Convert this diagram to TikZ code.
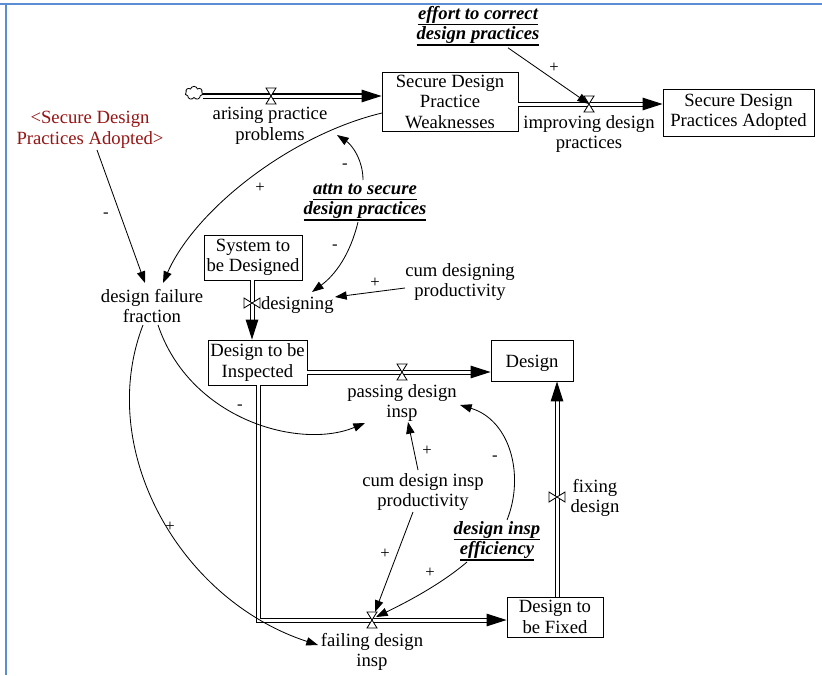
\documentclass[tikz,border=0pt]{standalone}
\usepackage{fontspec}
\setmainfont{Liberation Serif}
\usepackage{tikz}
\usetikzlibrary{arrows.meta,shapes.symbols,positioning}
\definecolor{frameblue}{RGB}{91,141,213}
\definecolor{shadowred}{RGB}{150,20,20}
\newcommand{\ulbf}[1]{\setbox0=\hbox{\bfseries\itshape #1}\leavevmode\rlap{\rule[-3.6pt]{\wd0}{0.9pt}}\box0}

\begin{document}
\begin{tikzpicture}[x=0.6pt,y=-0.6pt,
  font=\fontsize{11.2}{12.3}\selectfont,
  stock/.style={draw, fill=white, align=center, inner sep=0pt, line width=0.5pt,
    execute at begin node={\rule{0pt}{10.5pt}}},
  var/.style={align=center, inner sep=1pt, execute at begin node={\rule{0pt}{10.5pt}}},
  link/.style={-{Triangle[length=7pt,width=5pt]}, line width=0.5pt},
  flow/.style={double, double distance=1.8pt, line width=0.6pt, -{Triangle[length=12pt,width=7.5pt]}},
  sign/.style={inner sep=0pt, font=\fontsize{10}{12}\selectfont},
  valve/.pic={\draw[fill=white, line width=0.5pt] (-5,-8) -- (5,-8) -- (-5,8) -- (5,8) -- cycle;}]
  \useasboundingbox (0,0) rectangle (822,675);
  \draw[frameblue, line width=1.2pt] (0,4) -- (822,4);
  \draw[frameblue, line width=1.2pt] (6,4) -- (6,675);

  \node[stock, minimum width=81.6pt, minimum height=35.4pt] (sdpw) at (450,101.5) {Secure Design\\Practice\\Weaknesses};
  \node[stock, minimum width=90.6pt, minimum height=28.2pt] (sdpa) at (738.5,112.5) {Secure Design\\Practices Adopted};
  \node[stock, minimum width=58.8pt, minimum height=27pt] (sbd) at (253,257.5) {System to\\be Designed};
  \node[stock, minimum width=59.4pt, minimum height=27pt] (dtbi) at (257.5,362.5) {Design to be\\Inspected};
  \node[stock, minimum width=49.2pt, minimum height=24.6pt] (design) at (532,360.5) {Design};
  \node[stock, minimum width=57.6pt, minimum height=24pt] (dtbf) at (555,617) {Design to\\be Fixed};

  \node[cloud, draw, cloud puffs=7, minimum width=10.5pt, minimum height=8pt, inner sep=0pt, line width=0.5pt] (cloud) at (194,93) {};

  \coordinate (vars) at (271,96);
  \coordinate (vimp) at (589,104);
  \coordinate (vdes) at (252,303);
  \coordinate (vpass) at (402,372);
  \coordinate (vfail) at (372,620);
  \coordinate (vfix) at (557,497);
  \coordinate (corner) at (258,620);

  \draw[flow] (cloud.east |- vars) -- (vars -| sdpw.west);
  \draw[flow] (vimp -| sdpw.east) -- (vimp -| sdpa.west);
  \draw[flow] (vdes |- sbd.south) -- (vdes |- dtbi.north);
  \draw[flow] (vpass -| dtbi.east) -- (vpass -| design.west);
  \draw[flow] (corner |- dtbi.south) -- (corner) -- (vfail -| dtbf.west);
  \draw[flow] (vfix |- dtbf.north) -- (vfix |- design.south);

  \pic at (vars) {valve};
  \pic at (vimp) {valve};
  \pic[rotate=90] at (vdes) {valve};
  \pic at (vpass) {valve};
  \pic at (vfail) {valve};
  \pic[rotate=90] at (vfix) {valve};

  \node[var] (arising) at (270,126) {arising practice\\problems};
  \node[var] (improving) at (589,134) {improving design\\practices};
  \node[var] (effort) at (478,26) {\ulbf{effort to correct}\\\ulbf{design practices}};
  \node[var] (attn) at (365,202) {\ulbf{attn to secure}\\\ulbf{design practices}};
  \node[var, text=shadowred] (sdpashadow) at (90,130) {<Secure Design\\Practices Adopted>};
  \node[var] (dff) at (152,306) {design failure\\fraction};
  \node[var] (cdp) at (460,282) {cum designing\\productivity};
  \node[var, anchor=west] (designing) at (259,303) {designing};
  \node[var] (passing) at (402,403) {passing design\\insp};
  \node[var] (cdip) at (423,492) {cum design insp\\productivity};
  \node[var] (die) at (497,541) {\ulbf{design insp}\\\ulbf{efficiency}};
  \node[var] (failing) at (372,652) {failing design\\insp};
  \node[var] (fixing) at (595,498) {fixing\\design};

  \draw[link] (effort.south) ++(30,0) coordinate (e1) -- (vimp) ;
  \draw[link] (97,150) coordinate (s1) -- (145,283) coordinate (d1);
  \draw[link] (382,113) .. controls (290,135) and (195,210) .. (163,283);
  \draw[link] (363,180) .. controls (363,160) and (352,145) .. (337,135);
  \draw[link] (358,222) .. controls (350,255) and (335,275) .. (312,292);
  \draw[link] (405,288) -- (335,297);
  \draw[link] (158,325) .. controls (190,420) and (300,450) .. (365,423);
  \draw[link] (143,325) .. controls (95,450) and (180,600) .. (318,645);
  \draw[link] (418,470) -- (408,422);
  \draw[link] (413,512) -- (375,612);
  \draw[link] (467,562) .. controls (440,585) and (405,603) .. (376,617);
  \draw[link] (507,520) .. controls (525,475) and (510,420) .. (460,405);

  \node[sign] (p1) at (554,68) {+};
  \node[sign] (m1) at (106,215) {-};
  \node[sign] (p2) at (260,188) {+};
  \node[sign] (m2) at (345,166) {-};
  \node[sign] (m3) at (335,247) {-};
  \node[sign] (p3) at (375,283) {+};
  \node[sign] (m4) at (240,407) {-};
  \node[sign] (p4) at (427,451) {+};
  \node[sign] (m5) at (495,458) {-};
  \node[sign] (p5) at (170,527) {+};
  \node[sign] (p6) at (385,554) {+};
  \node[sign] (p7) at (430,573) {+};
\end{tikzpicture}
\end{document}
